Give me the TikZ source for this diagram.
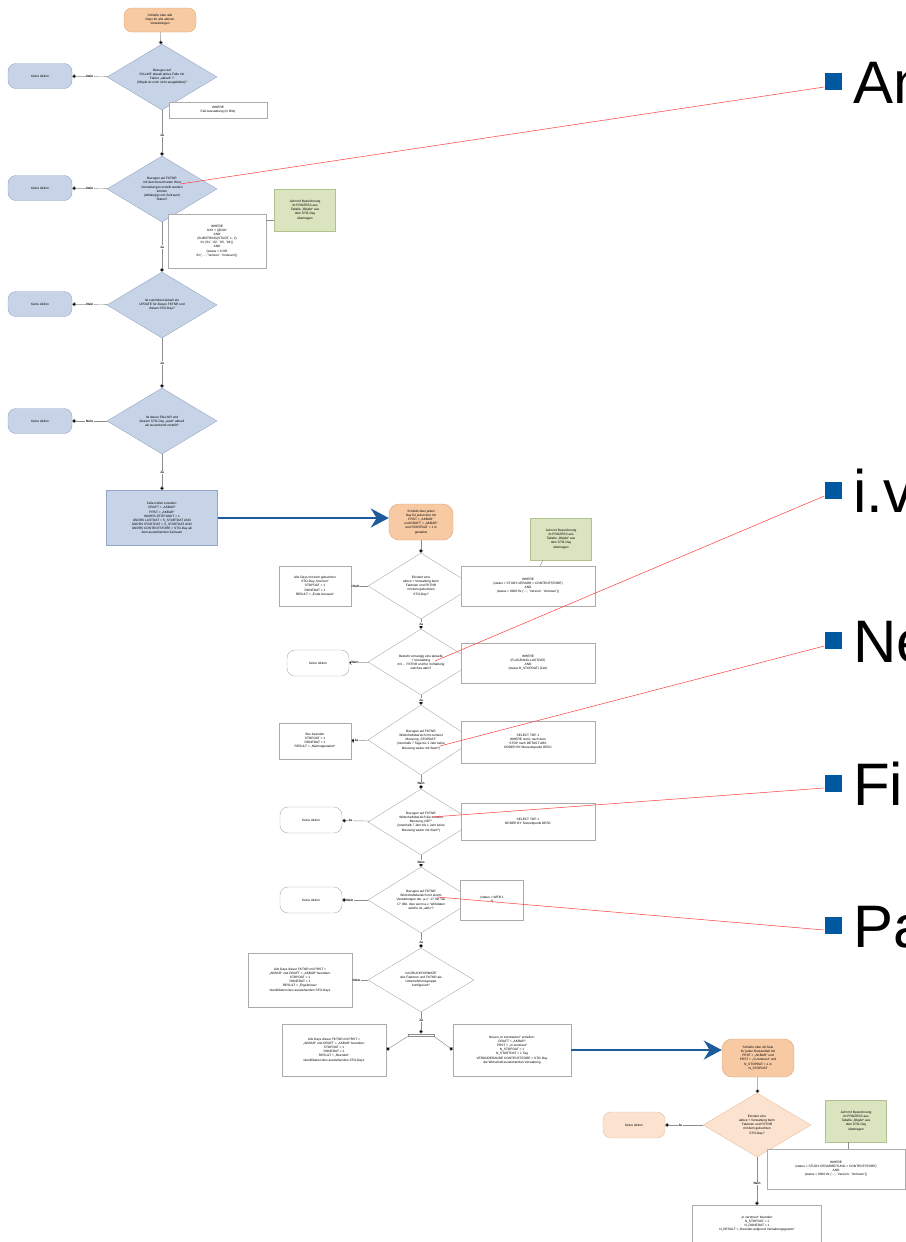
\documentclass[tikz,border=0pt]{standalone}
\usepackage{fontspec}
\setmainfont{Liberation Sans}
\usetikzlibrary{shapes.geometric}
\usetikzlibrary{arrows.meta}
\definecolor{bluefill}{HTML}{C7D4E7}
\definecolor{blueline}{HTML}{93A7C4}
\definecolor{orangefill}{HTML}{F8CAA4}
\definecolor{orangeline}{HTML}{E0A275}
\definecolor{paleorange}{HTML}{FBE3D0}
\definecolor{greenfill}{HTML}{DAE5C0}
\definecolor{greenline}{HTML}{B2C28E}
\definecolor{boxline}{HTML}{ABABAB}
\definecolor{arrowblue}{HTML}{1D5B9B}
\definecolor{bulletblue}{HTML}{0058A0}
\definecolor{pointerred}{HTML}{FF3B3B}
\newcommand\flowfont{\fontsize{3.2}{4.1}\selectfont}
\newcommand\slidefont{\fontsize{60}{60}\selectfont}
\tikzset{every node/.style={font=\flowfont, align=center},
         decision/.style={diamond, draw=boxline, fill=white, aspect=1.6, inner sep=0.5pt, minimum width=106pt, minimum height=66pt},
         terminal/.style={rectangle, rounded corners=8pt, draw=boxline, fill=white, minimum width=62pt, minimum height=26pt, inner sep=1pt},
         process/.style={rectangle, draw=boxline, fill=white, inner sep=1pt},
         hint/.style={rectangle, draw=greenline, fill=greenfill, minimum width=61pt, minimum height=42pt, inner sep=1pt},
         bluefc/.style={fill=bluefill, draw=blueline},
         orangefc/.style={fill=orangefill, draw=orangeline},
         paleorangefc/.style={fill=paleorange, draw=orangeline!70},
         link/.style={draw=black!45, line width=0.45pt, -{Circle[length=4pt, fill=black]}},
         plainlink/.style={draw=black!45, line width=0.45pt},
         answer/.style={fill=white, inner sep=0.6pt, font=\flowfont\bfseries},
         flowarrow/.style={draw=arrowblue, line width=2.2pt, -{Stealth[length=18pt, width=19pt]}},
         pointer/.style={draw=pointerred, line width=0.5pt},
         bullet/.style={fill=bulletblue, minimum size=17pt, inner sep=0pt},
         slidetext/.style={anchor=base west, inner sep=0pt, font=\slidefont},
         }
\begin{document}
\begin{tikzpicture}[x=1pt, y=-1pt]
\useasboundingbox (0,0) rectangle (905,1242);

% first flowchart (blue)
\node[terminal, orangefc, minimum width=72pt, minimum height=24pt] (s1) at (160,20) {Schleife über alle\\Days für alle aktiven\\Verwaltungen};
\node[decision, bluefc, minimum width=110pt] (d1) at (162,77) {Bezugen auf\\FALLWF aktuell aktive Fälle mit\\Faktor „aktuell“ ?\\(Objekt ist noch nicht ausgebildet)?};
\node[terminal, bluefc, minimum width=64pt, minimum height=25pt] (k1) at (40,76) {Keine Aktion};
\node[process, minimum width=98pt, minimum height=16pt] (n1) at (218,110) {WHERE\\Fall-Ausstattung (in Bits)};
\node[decision, bluefc, minimum width=110pt] (d2) at (162,189) {Bezugen auf FKTNR\\mit dem berechneten Wert\\Verwaltungen erstellt werden\\können\\(Abhängig vom Zeitraum)\\Status?};
\node[terminal, bluefc, minimum width=64pt, minimum height=25pt] (k2) at (40,188) {Keine Aktion};
\node[process, minimum width=98pt, minimum height=54pt] (n2) at (217,241) {WHERE\\DAY = @DAY\\AND\\(SUBSTRING(STUDT, 1, 2)\\IN ('01', '02', '03', '04'))\\AND\\(status = 0 OR\\IN ('...', 'Version', 'Vorlesen'))};
\node[hint] (g1) at (305,210) {Jahr mit Bezeichnung\\im PROZESS aus\\Tabelle „Objekt“ aus\\dem STO-Day\\übertragen};
\node[decision, bluefc, minimum width=110pt] (d3) at (162,305) {Ist zumindest aktuell ein\\UPDATE für diesen FKTNR und\\diesen STO-Day?};
\node[terminal, bluefc, minimum width=64pt, minimum height=25pt] (k3) at (40,304) {Keine Aktion};
\node[decision, bluefc, minimum width=110pt] (d4) at (162,421) {Ist dieser FALLNR und\\diesem STO-Day „ausb“ aktuell\\ab ausstehend erstellt?};
\node[terminal, bluefc, minimum width=64pt, minimum height=25pt] (k4) at (40,421) {Keine Aktion};
\node[process, bluefc, minimum width=111pt, minimum height=55pt] (p1) at (162,518) {Zeilen-Wert erstellen:\\DRAFT = „AKBAR“\\PRST = „AKBAR“\\WAHRS ZEITPUNKT = 1\\ÄNDRS LASTDAT = S\_STARTDAT AND\\ÄNDRS STARTDAT = S\_STARTDAT AND\\ÄNDRS CONTENTSTORE = STO-Day ab\\dem ausstehenden Zeitraum};

\draw[link] (s1) -- (d1);
\draw[link] (d1) -- node[answer] {Nein} (k1);
\draw[link] (d1) -- node[answer, pos=0.55] {Ja} (d2);
\draw[link] (d2) -- node[answer] {Nein} (k2);
\draw[link] (d2) -- node[answer, pos=0.5] {Ja} (d3);
\draw[link] (d3) -- node[answer] {Nein} (k3);
\draw[link] (d3) -- node[answer] {Ja} (d4);
\draw[link] (d4) -- node[answer] {Nein} (k4);
\draw[link] (d4) -- node[answer] {Ja} (p1);
\draw[plainlink] ([yshift=-10pt]g1.west) -- ([yshift=-10pt]g1.west -| n2.east);

% second flowchart (white)
\node[terminal, orangefc, minimum width=64pt, minimum height=36pt, rounded corners=10pt] (s2) at (421,522) {Schleife über jeden\\Day für jeden den mit\\PRST = „AKBAR“\\und DRAFT = „AKBAR“\\und STARTDAT = 1 in\\gestartet};
\node[decision] (d5) at (421,586) {Existiert eine\\aktive + Verwaltung beim\\Faktoren und FKTNR\\mit dem gebuchten\\STO-Day?};
\node[process, minimum width=72pt, minimum height=40pt] (l5) at (315,586) {Alle Days mit dem gebuchten\\STO-Day „löschen“\\STOPDAT = 1\\DONEDAT = 1\\RESULT = „Ende Ausweis“};
\node[process, minimum width=134pt, minimum height=40pt] (r5) at (528,586) {WHERE\\(status = STUDY-VERARB = CONTENTSTORE)\\AND\\(status = 0000 IN ('...', 'Version', 'Vorlesen'))};
\node[hint] (g2) at (561,539) {Jahr mit Bezeichnung\\im PROZESS aus\\Tabelle „Objekt“ aus\\dem STO-Day\\übertragen};
\node[decision] (d6) at (421,662) {Besteht vorrangig eine aktuelle\\+ Verwaltung\\mit ... FKTNR und für Vorhaltung\\welches aktiv?};
\node[terminal] (k6) at (318,663) {Keine Aktion};
\node[process, minimum width=134pt, minimum height=40pt] (r6) at (528,663) {WHERE\\(FLAGRANG-LASTDAT)\\AND\\(status B\_STOPDAT) (Zeit)};
\node[decision, minimum height=70pt] (d7) at (421,740) {Bezugen auf FKTNR\\Wirtschaftsbereich mit zumeist\\Messung „STOPDAT“\\(innerhalb 7 Tage bis 1 Jahr keine\\Messung weiter mit Start?)};
\node[process, minimum width=72pt, minimum height=36pt] (l7) at (315,741) {Bes beenden\\STOPDAT = 1\\DONEDAT = 1\\RESULT = „Nächstgestartet“};
\node[process, minimum width=134pt, minimum height=42pt] (r7) at (528,742) {SELECT TOP 1\\WHERE num1 nach dem\\STOP nach DETAST ABS\\ORDER BY Messzeitpunkt DESC};
\node[decision] (d8) at (421,822) {Bezugen auf FKTNR\\Wirtschaftsbereich die zumeist\\Messung „NET“\\(innerhalb 7 Jahr bis 1 Jahr keine\\Messung weiter mit Start?)};
\node[terminal] (k8) at (311,820) {Keine Aktion};
\node[process, minimum width=134pt, minimum height=37pt] (r8) at (528,822) {SELECT TOP 1\\ORDER BY Testzeitpunkt DESC};
\node[decision] (d9) at (421,900) {Bezugen auf FKTNR\\Wirtschaftsbereich mit einem\\Verwaltungen der „a.v.“ 1? mit Tau\\1? (Ob. dies wenn a.v. Wirkdaten\\welche ist „aktiv“?};
\node[terminal] (k9) at (311,900) {Keine Aktion};
\node[process, minimum width=63pt, minimum height=40pt] (r9) at (492,900) {(status = WEB 1\\?)};
\node[decision, minimum height=64pt] (d10) at (421,980) {Ist DRUCKFORMATE\\des Faktoren und FKTNR als\\Unternehmensgruppe\\konfiguriert?};
\node[process, minimum width=104pt, minimum height=54pt] (l10) at (300,980) {Alle Days dieser FKTNR mit PRST =\\„AKBAR“ und DRAFT = „AKBAR“ beenden:\\STOPDAT = 1\\DONEDAT = 1\\RESULT = „Ergebnisse“\\Identifikation des ausstehenden STO-Days};
\node[process, draw=black!45, minimum width=26pt, minimum height=2.5pt, inner sep=0pt] (f) at (421,1035) {};
\node[process, minimum width=104pt, minimum height=52pt] (lb) at (334,1050) {Alle Days dieser FKTNR mit PRST =\\„AKBAR“ und DRAFT = „AKBAR“ beenden:\\STOPDAT = 1\\DONEDAT = 1\\RESULT = „Beendet“\\Identifikation des ausstehenden STO-Days};
\node[process, minimum width=118pt, minimum height=52pt] (rb) at (512,1050) {Neuen „in zerstreuten“ erstellen:\\DRAFT = „AKBAR“\\PRST = „in zerstreut“\\N\_STOPDAT = 1\\N\_STARTDAT = 1 Tag\\VERÄNDERANDE CONTENTSTORE = STO-Day\\die Wirtschaft ausstehenden Verwaltung};

\draw[flowarrow] (p1.east) -- (p1.east -| s2.west);
\draw[link] (s2) -- (d5);
\draw[link] (d5) -- node[answer, pos=0.7] {Nein} (l5);
\draw[plainlink] ([xshift=-18pt]g2.south) -- ([xshift=12pt]r5.north);
\draw[link] (d5) -- node[answer] {Ja} (d6);
\draw[link] (d6) -- node[answer, pos=0.7] {Nein} (k6);
\draw[link] (d6) -- node[answer] {Ja} (d7);
\draw[link] (d7) -- node[answer, pos=0.7] {Ja} (l7);
\draw[link] (d7) -- node[answer, pos=0.6] {Nein} (d8);
\draw[link] (d8) -- node[answer, pos=0.7] {Ja} (k8);
\draw[link] (d8) -- node[answer, pos=0.6] {Nein} (d9);
\draw[link] (d9) -- node[answer, pos=0.7] {Nein} (k9);
\draw[link] (d9) -- node[answer, pos=0.6] {Ja} (d10);
\draw[link] (d10) -- node[answer, pos=0.7] {Nein} (l10);
\draw[link] (d10) -- node[answer, pos=0.4] {Ja} (f);
\draw[link] (f.south west) -- (lb.east);
\draw[link] (f.south east) -- (rb.west);

% third flowchart (orange)
\node[terminal, orangefc, minimum width=72pt, minimum height=38pt, rounded corners=10pt] (s3) at (758,1058) {Schleife über All-Sets\\für jeden Bestandteil mit\\PRST = „AKBAR“ und\\PRST = „in zerstreut“ und\\N\_STOPDAT = 1 in\\N\_STOPDAT};
\node[decision, paleorangefc, minimum width=108pt, minimum height=64pt] (d11) at (757,1125) {Existiert eine\\aktive + Verwaltung beim\\Faktoren und FKTNR\\mit dem gebuchten\\STO-Day?};
\node[terminal, paleorangefc] (k11) at (634,1125) {Keine Aktion};
\node[process, minimum width=138pt, minimum height=40pt] (r11) at (836,1169) {WHERE\\(status = STUDY-VERARBEITUNG = CONTENTSTORE)\\AND\\(status = 0000 IN ('...', 'Version', 'Vorlesen'))};
\node[hint] (g3) at (856,1121) {Jahr mit Bezeichnung\\im PROZESS aus\\Tabelle „Objekt“ aus\\dem STO-Day\\übertragen};
\node[process, minimum width=129pt, minimum height=37pt] (b11) at (757,1224) {„in zerstreut“ beenden:\\N\_STOPDAT = 1\\N\_DONEDAT = 1\\N\_RESULT = „Beendet aufgrund Verwaltungsgesetz“};

\draw[flowarrow] (rb.east) -- (rb.east -| s3.west);
\draw[link] (s3) -- (d11);
\draw[link] (d11) -- node[answer, pos=0.6] {Ja} (k11);
\draw[plainlink] ([xshift=-8pt]g3.south) -- ([xshift=-8pt]g3.south |- r11.north);
\draw[link] (d11) -- node[answer, pos=0.55] {Nein} (b11);

% slide bullets
\node[bullet] (b1) at (833,81) {};
\node[bullet] (b2) at (833,490) {};
\node[bullet] (b3) at (833,640) {};
\node[bullet] (b4) at (833,783) {};
\node[bullet] (b5) at (833,925) {};
\node[slidetext] (t1) at (853,103) {An};
\node[slidetext] (t2) at (853,512) {i.v};
\node[slidetext] (t3) at (853,662) {Ne};
\node[slidetext] (t4) at (853,805) {Fi};
\node[slidetext] (t5) at (853,947) {Pa};

% pointers into the flowcharts
\coordinate (h1) at (180,184);
\coordinate (h2) at (435,661);
\coordinate (h3) at (440,746);
\coordinate (h4) at (432,817);
\coordinate (h5) at (437,897);
\draw[pointer] (h1) -- ([yshift=-6pt]b1.west);
\draw[pointer] (h2) -- ([yshift=-6pt]b2.west);
\draw[pointer] (h3) -- ([yshift=-6pt]b3.west);
\draw[pointer] (h4) -- ([yshift=-5pt]b4.west);
\draw[pointer] (h5) -- ([yshift=-5pt]b5.west);
\end{tikzpicture}
\end{document}
